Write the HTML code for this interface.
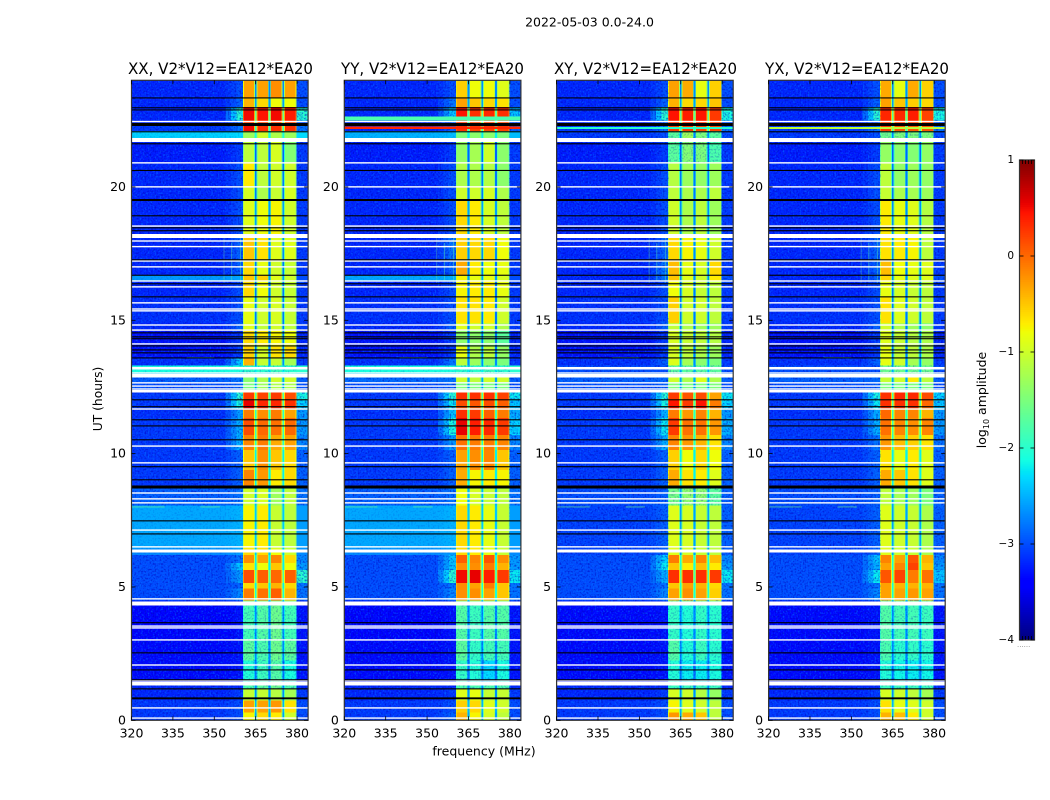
<!DOCTYPE html>
<html lang="en">
<head>
<meta charset="utf-8">
<title>2022-05-03 0.0-24.0 waterfall</title>
<style>
html,body{margin:0;padding:0;background:#fff;}
svg{display:block;font-family:"DejaVu Sans","Liberation Sans",sans-serif;fill:#000;}
.tick{font-size:12.5px;}
.ttl{font-size:16px;font-stretch:condensed;}
</style>
</head>
<body>
<svg id="figure" xmlns="http://www.w3.org/2000/svg" width="1050" height="800" viewBox="0 0 1050 800">
<defs>
<filter id="speckLight" x="0" y="0" width="1" height="1" color-interpolation-filters="sRGB">
<feTurbulence type="fractalNoise" baseFrequency="0.6 0.55" numOctaves="1" seed="4"/>
<feColorMatrix type="matrix" values="0 0 0 0 0  0 0 0 0 0.48  0 0 0 0 1  3.6 0 0 0 -1.75"/>
</filter>
<filter id="speckDark" x="0" y="0" width="1" height="1" color-interpolation-filters="sRGB">
<feTurbulence type="fractalNoise" baseFrequency="0.6 0.55" numOctaves="1" seed="11"/>
<feColorMatrix type="matrix" values="0 0 0 0 0  0 0 0 0 0  0 0 0 0 0.72  3.6 0 0 0 -1.75"/>
</filter>
</defs>
<rect width="1050" height="800" fill="#fff"/>
<g id="panels"></g>
<g id="colorbar"></g>
<text x="589.5" y="26.5" text-anchor="middle" font-size="12.5">2022-05-03 0.0-24.0</text>
<text class="ttl" x="128" y="74" textLength="185" lengthAdjust="spacingAndGlyphs">XX, V2*V12=EA12*EA20</text>
<text class="ttl" x="341" y="74" textLength="183" lengthAdjust="spacingAndGlyphs">YY, V2*V12=EA12*EA20</text>
<text class="ttl" x="554" y="74" textLength="183" lengthAdjust="spacingAndGlyphs">XY, V2*V12=EA12*EA20</text>
<text class="ttl" x="765" y="74" textLength="184" lengthAdjust="spacingAndGlyphs">YX, V2*V12=EA12*EA20</text>
<text x="484" y="755.5" text-anchor="middle" font-size="12.5">frequency (MHz)</text>
<text transform="translate(102 399) rotate(-90)" text-anchor="middle" font-size="12.3">UT (hours)</text>
<text transform="translate(986 400) rotate(-90)" text-anchor="middle" font-size="12.5">log<tspan font-size="8" dy="3">10</tspan><tspan dy="-3"> amplitude</tspan></text>
<text x="1017" y="647" font-size="7" fill="#888">......</text>
</svg>
<script>
var xTicks = [320, 335, 350, 365, 380];
var yTicks = [0, 5, 10, 15, 20];
var cbTicks = [1, 0, -1, -2, -3, -4];
var cbTickLabels = ['1', '0', '\u22121', '\u22122', '\u22123', '\u22124'];
var panelNames = ['xx', 'yy', 'xy', 'yx'];

// band edges in UT hours, top to bottom
var timeEdges = [24.00,23.36,22.99,22.50,22.39,22.09,21.83,21.64,20.93,20.03,19.50,18.23,18.08,17.25,16.69,16.46,15.90,14.89,14.63,14.06,13.58,13.31,13.05,12.86,12.68,12.30,12.00,11.70,11.33,10.69,10.13,9.38,8.70,8.06,6.45,6.19,5.89,5.63,5.14,4.95,4.50,4.31,3.04,2.25,1.43,1.20,0.75,0.30,0];

// log10 amplitude per band: background, shoulder, four subbands, right edge, subband gap
var levelsXX = [
[-3.2,-3.0,-.3,-.3,-.2,-.3,-3.0,-2.7],[-3.2,-2.9,-.4,-.6,-.8,-.8,-3.0,-2.6],[-3.2,-2.0,.5,.45,.5,.4,-2.0,-1.6],[-3.2,-2.9,.2,.2,.2,.2,-3.0,-2.0],
[-3.1,-2.8,.5,.3,.3,.3,-2.8,-2.0],[-2.35,-2.3,-1.3,-1.0,-1.2,-1.3,-2.3,-2.1],[-3.2,-3.1,-1.1,-1.1,-.95,-1.45,-3.1,-2.9],[-3.25,-3.1,-1.1,-1.1,-.95,-1.45,-3.1,-2.9],
[-3.2,-3.0,-.7,-1.1,-1.0,-1.0,-3.1,-2.8],[-3.2,-3.0,-.95,-1.2,-1.05,-.95,-3.1,-2.8],[-3.2,-3.0,-.9,-.8,-.75,-1.0,-3.1,-2.6],[-3.2,-3.0,-.9,-.8,-.75,-1.0,-3.1,-2.6],
[-3.2,-2.9,-.5,-.65,-.9,-.9,-3.1,-2.7],[-3.2,-2.9,-.6,-.85,-1.0,-1.05,-3.1,-2.8],[-2.62,-2.55,-.5,-.55,-.9,-1.0,-3.0,-2.6],[-3.2,-3.0,-.6,-.8,-1.0,-1.05,-3.1,-2.8],
[-3.15,-3.0,-.85,-1.0,-.95,-1.05,-3.1,-2.8],[-3.2,-2.9,-.9,-1.1,-1.0,-1.1,-3.1,-2.8],[-3.3,-3.1,-.6,-.7,-.75,-.8,-3.2,-2.8],[-3.3,-3.1,-.55,-.95,-.65,-.6,-3.2,-2.8],
[-3.15,-2.4,-.4,-1.05,-1.05,-1.25,-3.1,-2.7],[-2.1,-2.1,-2.0,-2.0,-1.9,-2.0,-2.0,-2.2],[-2.4,-2.4,-2.0,-2.0,-1.9,-2.0,-2.4,-2.3],[-2.9,-2.8,-1.4,-1.2,-1.0,-1.0,-2.9,-2.6],
[-3.0,-2.9,-1.5,-1.3,-1.2,-1.2,-3.0,-2.7],[-3.1,-2.0,.25,.2,.25,.15,-2.1,-1.8],[-3.1,-2.1,.55,.35,.35,.3,-2.3,-1.8],[-3.15,-2.6,-.1,-.2,-.1,-.3,-2.6,-2.0],
[-3.1,-2.5,.15,0,-.05,0,-2.6,-1.9],[-3.1,-2.5,-.15,-.1,-.35,-.3,-2.7,-2.0],[-3.1,-2.9,-.5,-.2,-.5,-.6,-2.9,-2.2],[-3.1,-2.9,-.15,-.25,-.7,-.6,-2.9,-2.2],
[-2.9,-2.8,-1.0,-.95,-1.3,-1.1,-2.8,-2.5],[-2.55,-2.5,-.75,-.7,-1.05,-1.1,-2.6,-2.4],[-2.7,-2.6,-.6,-.6,-.8,-1.0,-2.7,-2.4],[-3.0,-2.8,-.2,-.3,-.15,-.6,-2.7,-2.2],
[-3.0,-2.4,-.65,-.8,-.5,-.8,-2.6,-2.2],[-3.0,-2.6,.15,.05,0,.05,-2.0,-1.8],[-3.0,-2.9,-.6,-.5,-.4,-.6,-2.8,-2.2],[-3.0,-2.7,-.1,-.05,.05,-.4,-2.8,-2.1],
[-3.2,-3.2,-1.5,-1.5,-1.5,-1.5,-3.2,-2.7],[-3.4,-3.3,-1.85,-1.75,-1.6,-1.85,-3.3,-2.7],[-3.35,-3.3,-1.7,-1.8,-1.6,-1.7,-3.3,-2.7],[-3.35,-3.3,-2.05,-1.9,-1.75,-2.1,-3.3,-2.8],
[-3.2,-3.2,-1.8,-1.7,-1.6,-1.8,-3.2,-2.7],[-3.2,-3.1,-1.05,-1.05,-1.15,-1.25,-3.1,-2.7],[-3.1,-3.0,-.3,-.3,-.25,-.65,-3.0,-2.5],[-3.1,-3.0,-.75,-.6,-.7,-1.0,-3.0,-2.6]
];
var levelsYY = [
[-3.2,-3.0,-.55,-.8,-.8,-.9,-3.0,-2.7],[-3.2,-2.8,-.3,-.5,-.6,-.65,-3.0,-2.6],[-3.2,-2.4,.45,.3,.35,.3,-2.4,-1.7],[-3.2,-2.9,.3,.2,.2,.2,-3.0,-2.0],
[-3.2,-2.9,.3,.2,.2,.2,-2.9,-2.0],[-2.5,-2.45,-1.5,-1.4,-1.4,-1.5,-2.45,-2.2],[-3.2,-3.1,-1.35,-1.25,-1.0,-1.4,-3.1,-2.9],[-3.25,-3.1,-1.35,-1.25,-1.0,-1.4,-3.1,-2.9],
[-3.2,-3.0,-1.2,-1.2,-1.15,-1.4,-3.1,-2.8],[-3.2,-3.0,-1.0,-1.0,-.95,-1.2,-3.1,-2.8],[-3.2,-3.0,-.6,-.7,-.95,-1.1,-3.1,-2.6],[-3.2,-3.0,-.6,-.7,-.95,-1.1,-3.1,-2.6],
[-3.2,-2.8,-.55,-.6,-.6,-.8,-3.1,-2.7],[-3.2,-2.9,-.35,-.7,-.8,-.85,-3.1,-2.8],[-2.55,-2.5,-.75,-.85,-.85,-.95,-3.0,-2.6],[-3.2,-3.0,-.75,-.7,-.7,-.85,-3.1,-2.8],
[-3.15,-3.0,-.65,-.65,-.7,-1.0,-3.1,-2.8],[-3.2,-2.9,-.9,-1.0,-1.0,-1.2,-3.1,-2.8],[-3.3,-3.1,-1.4,-1.4,-1.4,-1.7,-3.2,-2.8],[-3.3,-3.1,-.85,-1.2,-1.1,-1.35,-3.2,-2.8],
[-3.15,-2.8,-1.1,-1.3,-1.4,-1.5,-3.1,-2.7],[-2.1,-2.1,-2.0,-2.0,-1.9,-2.0,-2.0,-2.2],[-2.4,-2.4,-2.0,-2.0,-1.9,-2.0,-2.4,-2.3],[-2.85,-2.8,-1.0,-1.1,-1.0,-1.0,-2.9,-2.6],
[-3.0,-2.9,-1.5,-1.5,-1.5,-1.5,-3.0,-2.7],[-3.1,-2.0,.3,.3,.3,.2,-2.2,-1.8],[-3.1,-2.2,.15,.1,.15,.05,-2.4,-1.8],[-3.15,-2.4,.3,.25,.05,-.1,-2.5,-1.9],
[-3.1,-2.1,.55,.4,.35,.25,-2.3,-1.8],[-3.1,-2.6,-.05,-.1,-.1,-.15,-2.7,-2.0],[-3.1,-2.9,-.3,-.2,-.15,-.5,-2.9,-2.2],[-3.1,-2.9,-.35,-.75,-.7,-.75,-2.9,-2.2],
[-2.9,-2.8,-.8,-.95,-1.05,-1.1,-2.8,-2.5],[-2.55,-2.5,-.6,-.7,-.85,-1.05,-2.6,-2.4],[-2.7,-2.6,-.6,-.7,-.85,-1.05,-2.7,-2.4],[-3.0,-2.4,.05,-.15,.1,-.2,-2.6,-2.1],
[-3.0,-2.4,-.2,-.2,-.1,-.4,-2.6,-2.1],[-3.0,-2.0,.5,.55,.4,.25,-2.2,-1.7],[-3.0,-2.8,-.2,-.3,-.1,-.5,-2.8,-2.1],[-3.0,-2.7,-.2,-.2,-.3,-.5,-2.8,-2.1],
[-3.2,-3.2,-1.5,-1.5,-1.5,-1.5,-3.2,-2.7],[-3.4,-3.3,-1.75,-1.9,-1.75,-1.75,-3.3,-2.7],[-3.35,-3.3,-1.7,-1.95,-1.85,-1.85,-3.3,-2.7],[-3.35,-3.3,-1.95,-2.05,-2.3,-2.1,-3.3,-2.8],
[-3.2,-3.2,-1.8,-1.8,-1.8,-1.8,-3.2,-2.7],[-3.2,-3.1,-.9,-.85,-1.05,-1.05,-3.1,-2.7],[-3.1,-3.0,-.55,-.6,-.9,-1.0,-3.0,-2.5],[-3.1,-2.9,-.4,-.75,-.95,-1.1,-3.0,-2.6]
];
var levelsXY = [
[-3.2,-3.0,-.3,-.35,-.85,-.55,-3.0,-2.7],[-3.2,-2.9,-.4,-.6,-.6,-.5,-3.0,-2.6],[-3.2,-2.0,.45,.4,.45,.25,-2.1,-1.7],[-3.2,-2.9,.3,.3,.3,.2,-3.0,-2.0],
[-3.1,-2.8,.25,.25,.2,.2,-2.8,-2.0],[-3.1,-3.0,-1.7,-1.3,-1.5,-1.7,-3.0,-2.7],[-3.2,-3.1,-1.7,-1.45,-1.5,-1.8,-3.1,-2.9],[-3.25,-3.1,-1.7,-1.45,-1.5,-1.8,-3.1,-2.9],
[-3.2,-3.0,-1.15,-1.3,-1.35,-1.3,-3.1,-2.8],[-3.2,-3.0,-1.1,-1.2,-1.2,-1.1,-3.1,-2.8],[-3.2,-3.0,-1.0,-1.2,-1.1,-1.3,-3.1,-2.7],[-3.2,-3.0,-1.0,-1.2,-1.1,-1.3,-3.1,-2.7],
[-3.2,-2.9,-.6,-.75,-.85,-1.0,-3.1,-2.7],[-3.2,-2.8,-.45,-.85,-.95,-.6,-3.1,-2.8],[-3.2,-2.8,-.5,-.9,-1.0,-.7,-3.0,-2.7],[-3.2,-3.0,-.8,-.95,-1.05,-1.1,-3.1,-2.8],
[-3.15,-3.0,-.55,-1.0,-1.0,-1.1,-3.1,-2.8],[-3.2,-2.9,-1.1,-1.2,-1.3,-1.3,-3.1,-2.8],[-3.3,-3.1,-.95,-1.05,-1.1,-1.15,-3.2,-2.8],[-3.3,-3.1,-.95,-1.1,-1.2,-1.3,-3.2,-2.8],
[-3.15,-2.9,-.9,-1.25,-1.4,-1.5,-3.1,-2.7],[-3.0,-3.0,-1.7,-1.7,-1.7,-1.7,-3.0,-2.5],[-2.85,-2.85,-1.7,-1.7,-1.7,-1.7,-2.85,-2.5],[-2.9,-2.85,-1.0,-1.2,-.9,-1.2,-2.9,-2.6],
[-3.0,-2.9,-1.5,-1.5,-1.5,-1.5,-3.0,-2.7],[-3.1,-2.0,.25,.1,.15,-.3,-2.2,-1.8],[-3.1,-2.1,.45,.25,.45,-.1,-2.3,-1.8],[-3.15,-2.5,-.1,-.25,-.15,-.4,-2.6,-2.0],
[-3.1,-2.2,.25,-.05,-.05,-.25,-2.5,-1.9],[-3.1,-2.5,-.15,-.25,-.4,-.65,-2.7,-2.0],[-3.1,-2.9,-.55,-.8,-.6,-.8,-2.9,-2.2],[-3.1,-2.9,-.35,-.65,-.7,-.9,-2.9,-2.2],
[-3.0,-2.9,-1.55,-1.4,-1.4,-1.7,-2.9,-2.6],[-3.05,-2.9,-.9,-.95,-1.05,-1.1,-2.9,-2.6],[-3.05,-2.9,-.9,-.95,-1.05,-1.1,-2.9,-2.6],[-3.0,-2.3,-.1,-.35,-.15,-.45,-2.7,-2.1],
[-3.0,-2.2,-.5,-.7,-.45,-.7,-2.6,-2.1],[-3.0,-2.5,.3,.3,.3,.25,-2.2,-1.8],[-3.0,-2.8,-.5,-.3,-.4,-.6,-2.8,-2.1],[-3.0,-2.7,-.3,-.2,-.3,-.55,-2.8,-2.1],
[-3.2,-3.2,-1.6,-1.6,-1.6,-1.6,-3.2,-2.7],[-3.35,-3.3,-1.95,-2.05,-1.95,-2.0,-3.3,-2.7],[-3.35,-3.3,-1.75,-2.05,-1.9,-2.0,-3.3,-2.7],[-3.35,-3.3,-2.05,-2.2,-2.2,-2.1,-3.3,-2.8],
[-3.2,-3.2,-1.9,-1.9,-1.9,-1.9,-3.2,-2.7],[-3.2,-3.1,-.95,-1.0,-1.15,-1.35,-3.1,-2.7],[-3.1,-3.0,-.75,-.9,-1.0,-1.1,-3.0,-2.5],[-3.1,-3.0,-.25,-.35,-.5,-1.1,-3.0,-2.6]
];
var levelsYX = [
[-3.2,-3.0,-.35,-.85,-.35,-.55,-3.0,-2.7],[-3.2,-2.9,-.3,-.5,-.55,-.6,-3.0,-2.6],[-3.2,-2.0,.35,.35,.4,.2,-2.1,-1.7],[-3.2,-2.9,.2,.2,.2,.2,-3.0,-2.0],
[-3.1,-2.8,.25,.1,.1,.1,-2.8,-2.0],[-3.1,-3.0,-1.6,-1.5,-1.5,-1.5,-3.0,-2.7],[-3.2,-3.1,-1.35,-1.4,-1.45,-1.35,-3.1,-2.9],[-3.25,-3.1,-1.35,-1.4,-1.45,-1.35,-3.1,-2.9],
[-3.2,-3.0,-1.1,-1.35,-1.3,-1.35,-3.1,-2.8],[-3.2,-3.0,-1.05,-1.2,-1.25,-1.3,-3.1,-2.8],[-3.2,-3.0,-.7,-.85,-.9,-1.15,-3.1,-2.7],[-3.2,-3.0,-.7,-.85,-.9,-1.15,-3.1,-2.7],
[-3.2,-2.9,-.65,-.7,-.75,-1.1,-3.1,-2.7],[-3.2,-2.9,-.45,-.8,-.85,-.9,-3.1,-2.8],[-3.2,-2.9,-.6,-.85,-.9,-.9,-3.0,-2.7],[-3.2,-3.0,-.85,-.95,-1.05,-1.1,-3.1,-2.8],
[-3.15,-3.0,-.65,-.9,-1.0,-1.1,-3.1,-2.8],[-3.2,-2.9,-1.0,-1.2,-1.3,-1.4,-3.1,-2.8],[-3.3,-3.1,-.9,-1.05,-1.15,-1.2,-3.2,-2.8],[-3.3,-3.1,-.85,-1.05,-1.1,-1.2,-3.2,-2.8],
[-3.15,-2.9,-.85,-1.0,-1.25,-1.35,-3.1,-2.7],[-3.0,-3.0,-1.6,-1.6,-1.6,-1.6,-3.0,-2.5],[-2.85,-2.85,-1.6,-1.6,-1.6,-1.6,-2.85,-2.5],[-2.9,-2.85,-1.05,-1.0,-.7,-1.1,-2.9,-2.6],
[-3.0,-2.9,-1.5,-1.5,-1.5,-1.5,-3.0,-2.7],[-3.1,-2.1,.3,.35,.35,.15,-2.3,-1.8],[-3.1,-2.2,.3,.3,.3,0,-2.4,-1.8],[-3.15,-2.5,0,-.15,-.15,-.4,-2.6,-2.0],
[-3.1,-2.5,-.05,-.15,-.2,-.15,-2.6,-1.9],[-3.1,-2.8,-.25,-.45,-.55,-.65,-2.8,-2.0],[-3.1,-2.9,-.65,-.85,-.7,-.9,-2.9,-2.2],[-3.1,-2.9,-.35,-.5,-.65,-.9,-2.9,-2.2],
[-3.0,-2.9,-1.1,-1.25,-1.3,-1.5,-2.9,-2.6],[-3.05,-2.9,-.9,-1.0,-1.05,-1.2,-2.9,-2.6],[-3.05,-2.9,-.9,-1.0,-1.05,-1.2,-2.9,-2.6],[-3.0,-2.4,-.15,-.3,.1,-.4,-2.7,-2.1],
[-3.0,-2.5,-.3,-.15,.2,-.5,-2.6,-2.1],[-3.0,-2.2,.1,.2,-.1,-.05,-2.4,-1.8],[-3.0,-2.8,-.3,-.4,-.4,-.4,-2.8,-2.1],[-3.0,-2.7,-.3,-.3,-.25,-.3,-2.8,-2.1],
[-3.2,-3.2,-1.6,-1.6,-1.6,-1.6,-3.2,-2.7],[-3.35,-3.3,-1.75,-1.85,-1.85,-1.9,-3.3,-2.7],[-3.35,-3.3,-1.8,-2.0,-1.95,-2.0,-3.3,-2.7],[-3.35,-3.3,-2.05,-2.15,-2.2,-2.15,-3.3,-2.8],
[-3.2,-3.2,-1.9,-1.9,-1.9,-1.9,-3.2,-2.7],[-3.2,-3.1,-.95,-1.0,-1.1,-1.25,-3.1,-2.7],[-3.1,-3.0,-.65,-.85,-.9,-1.0,-3.0,-2.5],[-3.1,-3.0,-.4,-.45,-.7,-1.0,-3.0,-2.6]
];
var panelLevels = [levelsXX, levelsYY, levelsXY, levelsYX];

// full-width horizontal strips: start hour, end hour, log10 amplitude
var stripsXX = [];
var stripsYY = [[22.65,22.50,-1.8],[22.26,22.18,.35]];
var stripsXY = [[22.24,22.18,-2.0]];
var stripsYX = [[22.24,22.18,-1.1]];
var panelStrips = [stripsXX, stripsYY, stripsXY, stripsYX];

// flagged integrations, hours
var whiteLines = [22.48,20.93,20.03,18.56,18.00,17.79,17.25,17.03,16.50,16.28,15.68,15.45,15.38,14.85,14.66,14.14,13.05,12.68,12.56,12.45,11.70,10.31,9.68,8.55,8.33,8.18,7.16,6.53,4.58,3.56,3.49,3.04,2.10,1.50,.49,.11];
var whiteBands = [[21.83,21.68],[18.23,18.08],[13.24,13.16],[12.98,12.86],[12.38,12.30],[6.41,6.30],[4.46,4.31],[1.43,1.31]];
var blackLines = [23.36,22.99,22.91,22.09,21.64,20.64,18.94,18.49,18.38,17.29,16.71,16.39,15.90,14.55,14.40,14.33,14.06,13.91,13.80,13.61,12.04,11.78,11.29,11.06,10.54,9.53,9.04,7.50,7.01,3.68,2.55,1.91,1.54,1.20,.86,.83];
var blackBands = [[22.39,22.28],[19.54,19.48],[8.81,8.70]];

// narrow interference: frequency, start hour, end hour / hour, start MHz, end MHz
var rfiVertical = [[353.4,18.2,16.4],[356.2,17.9,16.5],[359.4,18.1,16.4]];
var rfiHorizontal = [[13.62,340,350],[8.02,320,332],[8.02,345,352]];
var rfiLevel = -1.6;

var NS = 'http://www.w3.org/2000/svg';
var panelLeft = [131.5, 344.3, 556.6, 768.6];
var plotW = 176.6, plotTop = 80.3, plotH = 640;
var FMIN = 320, FMAX = 384, TMAX = 24;
var VMIN = -4, VMAX = 1;

// matplotlib jet segment tables: [position, value]
var jetRed = [[0,0],[.35,0],[.66,1],[.89,1],[1,.5]];
var jetGreen = [[0,0],[.125,0],[.375,1],[.64,1],[.91,0],[1,0]];
var jetBlue = [[0,.5],[.11,1],[.34,1],[.65,0],[1,0]];

function xScale(f, left) { return left + (f - FMIN) / (FMAX - FMIN) * plotW; }
function yScale(h) { return plotTop + plotH - h / TMAX * plotH; }
function clamp01(v) { return Math.max(0, Math.min(1, v)); }
function seg(table, t) {
  for (var i = 1; i < table.length; i++) {
    if (t <= table[i][0]) {
      var a = table[i - 1], b = table[i];
      return a[1] + (b[1] - a[1]) * (t - a[0]) / (b[0] - a[0]);
    }
  }
  return table[table.length - 1][1];
}
function jet(level) {
  var t = clamp01((level - VMIN) / (VMAX - VMIN));
  return 'rgb(' + Math.round(seg(jetRed, t) * 255) + ',' + Math.round(seg(jetGreen, t) * 255) + ',' + Math.round(seg(jetBlue, t) * 255) + ')';
}
function rect(parent, x, y, w, h, fill, crisp) {
  var el = document.createElementNS(NS, 'rect');
  el.setAttribute('x', x);
  el.setAttribute('y', y);
  el.setAttribute('width', w);
  el.setAttribute('height', h);
  el.setAttribute('fill', fill);
  if (crisp) el.setAttribute('shape-rendering', 'crispEdges');
  parent.appendChild(el);
  return el;
}
function group(parent) {
  var el = document.createElementNS(NS, 'g');
  parent.appendChild(el);
  return el;
}
function label(parent, x, y, str, anchor) {
  var el = document.createElementNS(NS, 'text');
  el.setAttribute('x', x);
  el.setAttribute('y', y);
  el.setAttribute('text-anchor', anchor);
  el.setAttribute('class', 'tick');
  el.textContent = str;
  parent.appendChild(el);
  return el;
}

var panelsRoot = document.getElementById('panels');

panelNames.forEach(function (name, p) {
  var left = panelLeft[p];
  var g = group(panelsRoot);
  
  

  var levels = panelLevels[p];

  function bgCols(row) {
    var bg = row[0], sh = row[1];
    return [
      [320, 354, bg],
      [354, 356, bg + (sh - bg) * 0.3],
      [356, 358, bg + (sh - bg) * 0.65],
      [358, 360.4, sh],
      [379.8, 384, row[6]]
    ];
  }
  function sigCols(row) {
    var gap = row[7];
    var s1 = row[2], s2 = row[3], s3 = row[4], s4 = row[5];
    return [
      [360.4, 360.7, s1 * 0.8 + gap * 0.2],
      [360.7, 364.4, s1],
      [364.4, 364.7, s1 * 0.6 + gap * 0.4],
      [364.7, 365.3, gap],
      [365.3, 365.6, s2 * 0.6 + gap * 0.4],
      [365.6, 369.4, s2],
      [369.4, 369.7, s2 * 0.6 + gap * 0.4],
      [369.7, 370.3, gap],
      [370.3, 370.6, s3 * 0.6 + gap * 0.4],
      [370.6, 374.4, s3],
      [374.4, 374.7, s3 * 0.6 + gap * 0.4],
      [374.7, 375.3, gap],
      [375.3, 375.6, s4 * 0.6 + gap * 0.4],
      [375.6, 379.5, s4],
      [379.5, 379.8, s4 * 0.8 + gap * 0.2]
    ];
  }
  function drawCells(row, b, cols) {
    var y0 = yScale(timeEdges[b]);
    var y1 = yScale(timeEdges[b + 1]);
    cols.forEach(function (c) {
      var x0 = xScale(c[0], left);
      var x1 = xScale(c[1], left);
      var cell = rect(g, x0, y0, x1 - x0, y1 - y0, jet(c[2]), true);
      
      
    });
  }

  levels.forEach(function (row, b) {
    drawCells(row, b, bgCols(row));
    drawCells(row, b, sigCols(row));
  });

  [[320, 360.4], [379.8, 384]].forEach(function (span) {
    ['speckLight', 'speckDark'].forEach(function (fid) {
      var n = rect(g, xScale(span[0], left), plotTop, xScale(span[1], left) - xScale(span[0], left), plotH, '#000', false);
      n.setAttribute('filter', 'url(#' + fid + ')');
      n.setAttribute('opacity', '0.55');
      
      
    });
  });

  // bright background rows sit above the dim-row speckle
  levels.forEach(function (row, b) {
    if (row[0] > -2.8) {
      drawCells(row, b, bgCols(row));
      var soft = rect(g, left, yScale(timeEdges[b]), xScale(360.4, left) - left, yScale(timeEdges[b + 1]) - yScale(timeEdges[b]), '#000', false);
      soft.setAttribute('filter', 'url(#speckDark)');
      soft.setAttribute('opacity', '0.16');
      
      
    }
  });

  // dim subband rows carry visible speckle
  levels.forEach(function (row, b) {
    if (row[2] < -1.5) {
      var n = rect(g, xScale(360.4, left), yScale(timeEdges[b]), xScale(379.8, left) - xScale(360.4, left), yScale(timeEdges[b + 1]) - yScale(timeEdges[b]), '#000', false);
      n.setAttribute('filter', 'url(#speckDark)');
      n.setAttribute('opacity', '0.3');
      
      
    }
  });

  panelStrips[p].forEach(function (s) {
    var strip = rect(g, left, yScale(s[0]), plotW, yScale(s[1]) - yScale(s[0]), jet(s[2]), true);
    
    
  });

  rfiVertical.forEach(function (v) {
    var m = rect(g, xScale(v[0], left), yScale(v[1]), 0.7, yScale(v[2]) - yScale(v[1]), jet(rfiLevel), false);
    m.setAttribute('opacity', '0.5');
    
    
  });
  rfiHorizontal.forEach(function (v) {
    var m = rect(g, xScale(v[1], left), yScale(v[0]), xScale(v[2], left) - xScale(v[1], left), 1, jet(rfiLevel), false);
    m.setAttribute('opacity', '0.6');
    
    
  });

  whiteBands.forEach(function (w) {
    var f = rect(g, left, yScale(w[0]), plotW, yScale(w[1]) - yScale(w[0]), '#fff', true);
    
    
  });
  whiteLines.forEach(function (h) {
    var f = rect(g, left, yScale(h), plotW, 1.4, '#fff', false);
    
    
  });
  blackBands.forEach(function (w) {
    var f = rect(g, left, yScale(w[0]), plotW, yScale(w[1]) - yScale(w[0]), '#000', true);
    
    
  });
  blackLines.forEach(function (h) {
    var f = rect(g, left, yScale(h), plotW, 1.1, '#000', false);
    
    
  });

  var frame = rect(g, left, plotTop, plotW, plotH, 'none', false);
  frame.setAttribute('stroke', '#333');
  frame.setAttribute('stroke-width', '1.2');
  
  

  xTicks.forEach(function (t) {
    var x = xScale(t, left);
    var a = rect(g, x - 0.4, plotTop + plotH - 4, 0.8, 4, '#000', false);
    
    
    var b = rect(g, x - 0.4, plotTop, 0.8, 4, '#000', false);
    
    
    var l = label(g, x, 737.5, String(t), 'middle');
    
    
  });
  yTicks.forEach(function (t) {
    var y = yScale(t);
    var a = rect(g, left, y - 0.4, 4, 0.8, '#000', false);
    
    
    var b = rect(g, left + plotW - 4, y - 0.4, 4, 0.8, '#000', false);
    
    
    var l = label(g, left - 5.5, y + 4, String(t), 'end');
    
    
  });
});

// colour bar
var cbRoot = document.getElementById('colorbar');
var cbX = 1019.5, cbW = 15, cbTop = 160, cbH = 480;
function cbScale(v) { return cbTop + (VMAX - v) / (VMAX - VMIN) * cbH; }
var cbSteps = 256;
for (var i = 0; i < cbSteps; i++) {
  var v0 = VMAX - i * (VMAX - VMIN) / cbSteps;
  var v1 = VMAX - (i + 1) * (VMAX - VMIN) / cbSteps;
  var swatch = rect(cbRoot, cbX, cbScale(v0), cbW, cbScale(v1) - cbScale(v0) + 0.4, jet((v0 + v1) / 2), false);
  
  
}
var cbFrame = rect(cbRoot, cbX, cbTop, cbW, cbH, 'none', false);
cbFrame.setAttribute('stroke', '#333');
cbFrame.setAttribute('stroke-width', '1.2');


cbTicks.forEach(function (t, i) {
  var y = cbScale(t);
  var a = rect(cbRoot, cbX, y - 0.4, 4, 0.8, '#000', false);
  
  
  var b = rect(cbRoot, cbX + cbW - 4, y - 0.4, 4, 0.8, '#000', false);
  
  
  var l = label(cbRoot, cbX - 5.5, y + 3, cbTickLabels[i], 'end');
  l.setAttribute('style', 'font-size:10.5px');
  
  
});
[1022, 1025, 1028, 1031].forEach(function (x) {
  var top = rect(cbRoot, x, cbTop, 0.8, 4, '#000', false);
  
  
  var bot = rect(cbRoot, x, cbTop + cbH - 4, 0.8, 4, '#000', false);
  
  
});
</script>
</body>
</html>
